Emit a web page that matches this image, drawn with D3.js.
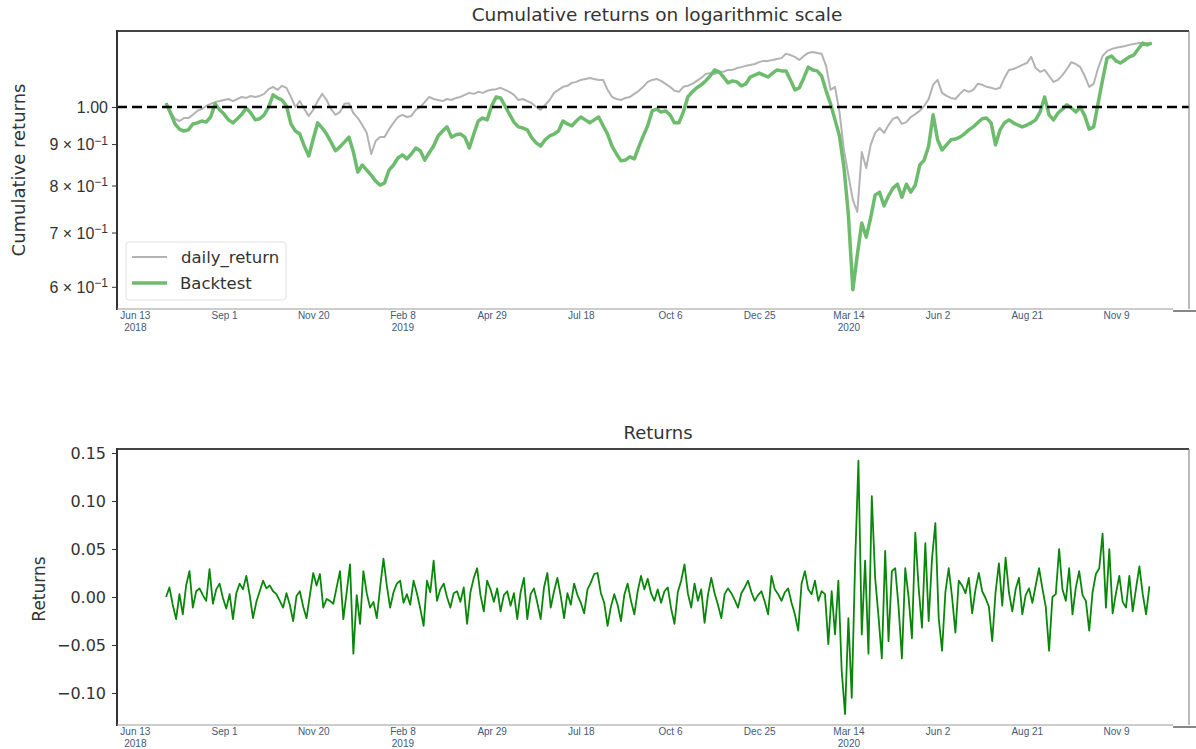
<!DOCTYPE html>
<html>
<head>
<meta charset="utf-8">
<script src="https://cdn.jsdelivr.net/npm/d3@7"></script>
<style>
  body { margin: 0; background: #fff; }
  svg { display: block; font-family: "DejaVu Sans", sans-serif; }
</style>
</head>
<body>
<svg width="1196" height="749"></svg>
<script>
// cumulative series, one value every 4 calendar days
const cumStart = "2018-07-11", cumStepDays = 4;

const dailyReturn = [
  1.011,0.986,0.967,0.961,0.969,0.969,0.978,0.989,0.994,1.003,
  1.009,1.014,1.017,1.020,1.023,1.017,1.023,1.029,1.026,1.032,
  1.029,1.032,1.038,1.052,1.059,1.050,1.062,1.056,1.029,1.000,
  1.017,0.994,0.975,0.992,1.017,1.038,1.020,0.994,0.978,0.986,
  1.009,1.011,0.983,0.969,0.950,0.929,0.875,0.908,0.918,0.918,
  0.939,0.956,0.972,0.978,0.972,0.975,0.992,1.000,1.014,1.029,
  1.023,1.020,1.017,1.023,1.020,1.026,1.029,1.035,1.041,1.038,
  1.044,1.041,1.047,1.050,1.052,1.056,1.050,1.044,1.035,1.020,
  1.023,1.017,1.011,1.000,0.992,1.006,1.020,1.041,1.050,1.059,
  1.062,1.071,1.074,1.080,1.083,1.086,1.083,1.080,1.080,1.050,
  1.029,1.023,1.020,1.026,1.029,1.038,1.047,1.059,1.074,1.080,
  1.083,1.077,1.068,1.059,1.047,1.044,1.059,1.062,1.068,1.077,
  1.086,1.098,1.101,1.098,1.105,1.105,1.111,1.111,1.117,1.120,
  1.124,1.127,1.130,1.136,1.140,1.140,1.143,1.146,1.149,1.163,
  1.159,1.153,1.143,1.156,1.166,1.169,1.166,1.163,1.124,1.050,
  1.059,0.986,0.885,0.824,0.768,0.742,0.880,0.841,0.898,0.929,
  0.942,0.929,0.950,0.967,0.972,0.953,0.958,0.972,0.980,0.989,
  1.003,1.023,1.065,1.080,1.041,1.032,1.026,1.023,1.038,1.050,
  1.044,1.050,1.068,1.065,1.059,1.056,1.052,1.056,1.086,1.111,
  1.114,1.120,1.127,1.133,1.153,1.117,1.105,1.111,1.092,1.074,
  1.080,1.095,1.114,1.136,1.130,1.120,1.092,1.059,1.068,1.117,
  1.156,1.172,1.179,1.183,1.186,1.189,1.193,1.196,1.199,1.199,
  1.199,1.199
];

const backtest = [
  1.011,0.983,0.953,0.939,0.934,0.937,0.953,0.956,0.961,0.958,
  0.972,1.009,0.992,0.980,0.964,0.956,0.967,0.980,0.997,0.983,
  0.964,0.967,0.978,1.000,1.035,1.026,1.020,1.003,0.953,0.934,
  0.926,0.895,0.870,0.913,0.956,0.942,0.926,0.905,0.883,0.893,
  0.905,0.918,0.880,0.831,0.848,0.836,0.824,0.810,0.801,0.806,
  0.836,0.848,0.865,0.873,0.863,0.875,0.890,0.883,0.860,0.878,
  0.895,0.921,0.934,0.945,0.918,0.924,0.926,0.918,0.890,0.926,
  0.961,0.969,0.964,1.003,1.029,1.026,1.003,0.980,0.958,0.945,
  0.942,0.937,0.916,0.903,0.895,0.911,0.921,0.926,0.934,0.961,
  0.953,0.948,0.961,0.972,0.964,0.956,0.964,0.972,0.948,0.926,
  0.895,0.875,0.858,0.860,0.868,0.863,0.893,0.921,0.948,0.989,
  0.994,0.986,0.989,0.978,0.956,0.956,0.986,1.029,1.044,1.056,
  1.065,1.077,1.092,1.111,1.105,1.089,1.071,1.077,1.074,1.062,
  1.068,1.089,1.095,1.101,1.095,1.089,1.101,1.111,1.108,1.108,
  1.080,1.050,1.056,1.086,1.120,1.111,1.108,1.092,1.047,1.009,
  0.964,0.921,0.843,0.736,0.595,0.657,0.719,0.691,0.730,0.779,
  0.785,0.755,0.777,0.794,0.803,0.774,0.803,0.785,0.801,0.848,
  0.860,0.895,0.978,0.911,0.885,0.898,0.911,0.913,0.918,0.926,
  0.937,0.945,0.956,0.967,0.969,0.956,0.898,0.937,0.956,0.964,
  0.956,0.950,0.945,0.950,0.956,0.964,0.986,1.029,0.978,0.964,
  0.983,0.994,1.006,0.997,0.986,1.000,0.975,0.939,0.945,1.011,
  1.080,1.149,1.156,1.140,1.133,1.143,1.153,1.159,1.179,1.199,
  1.193,1.199
];

// daily returns, one value every 3 calendar days
const retStart = "2018-07-11", retStepDays = 3;

const returns = [
  0.000,0.010,-0.008,-0.023,0.003,-0.018,0.012,0.027,-0.011,0.006,
  0.009,0.002,-0.004,0.029,-0.007,0.008,0.014,-0.001,-0.012,0.003,
  -0.023,0.004,0.014,0.008,0.022,0.002,-0.022,-0.005,0.006,0.017,
  0.009,0.012,0.006,0.003,-0.004,-0.011,0.004,-0.008,-0.025,0.001,
  0.006,-0.010,-0.022,0.002,0.025,0.012,0.024,-0.011,-0.002,-0.004,
  -0.007,0.010,0.027,-0.023,0.005,0.034,-0.059,0.002,-0.028,0.027,
  0.004,-0.011,-0.005,-0.022,0.010,0.040,0.012,-0.011,0.005,0.014,
  0.017,-0.006,0.003,-0.008,0.017,0.004,-0.012,-0.030,0.017,0.005,
  0.038,-0.004,0.008,0.014,0.000,-0.011,0.004,0.006,-0.005,0.010,
  -0.028,0.005,0.020,0.030,0.002,-0.015,0.017,0.008,-0.005,0.009,
  -0.015,0.002,0.006,-0.009,0.004,-0.023,0.005,0.020,-0.023,0.003,
  0.009,-0.006,-0.023,0.010,0.025,-0.011,0.006,0.020,0.001,-0.022,
  0.004,-0.008,0.014,0.002,-0.006,-0.017,0.008,0.015,0.024,0.025,
  0.004,-0.006,-0.030,-0.010,0.003,-0.008,-0.025,0.002,0.014,-0.004,
  -0.018,0.006,0.022,0.008,0.019,0.004,-0.004,0.008,-0.006,0.006,
  0.010,-0.012,-0.028,0.005,0.017,0.034,0.004,-0.011,0.014,-0.004,
  0.008,-0.027,0.002,0.020,0.004,-0.008,-0.022,0.003,0.009,0.004,
  -0.003,-0.011,0.004,0.010,0.017,0.005,-0.004,0.002,0.006,-0.005,
  -0.018,0.022,0.008,0.003,-0.004,0.005,0.009,-0.006,-0.018,-0.035,
  0.014,0.027,0.008,0.003,0.017,-0.004,0.006,0.003,-0.049,0.006,
  -0.039,0.017,-0.077,-0.122,-0.022,-0.105,0.034,0.142,-0.039,0.038,
  -0.059,0.105,0.020,-0.020,-0.064,0.048,-0.046,0.027,0.030,-0.010,
  -0.064,0.030,0.000,-0.043,0.067,0.010,-0.032,0.056,-0.025,0.040,
  0.077,-0.022,-0.056,0.005,0.030,0.000,-0.037,0.017,0.012,0.004,
  0.020,-0.017,0.008,0.025,0.006,-0.001,-0.010,-0.046,0.005,0.035,
  -0.009,0.041,0.005,-0.015,0.008,0.020,-0.018,0.002,0.009,-0.006,
  0.012,0.030,0.009,-0.010,-0.056,0.000,0.003,0.050,0.008,-0.004,
  0.030,-0.018,0.010,0.027,0.002,-0.004,-0.035,0.005,0.024,0.030,
  0.066,-0.011,0.050,-0.017,0.004,0.022,-0.005,-0.011,0.022,-0.015,
  0.009,0.032,0.003,-0.018,0.011
];

// axis ticks
const xTickDates = ["2018-06-13","2018-09-01","2018-11-20","2019-02-08","2019-04-29","2019-07-18",
                    "2019-10-06","2019-12-25","2020-03-14","2020-06-02","2020-08-21","2020-11-09"];
const logTicks = [1.0, 0.9, 0.8, 0.7, 0.6];
const logTickMantissa = ["1.00", "9", "8", "7", "6"];
const logTickExponent = [null, "\u22121", "\u22121", "\u22121", "\u22121"];
const retTicks = [0.15, 0.10, 0.05, 0.00, -0.05, -0.10];

const parse = d3.utcParse("%Y-%m-%d");
const cumDates = dailyReturn.map((_, i) => d3.utcDay.offset(parse(cumStart), i * cumStepDays));
const retDates = returns.map((_, i) => d3.utcDay.offset(parse(retStart), i * retStepDays));

var svg = d3.select("svg");

const left = 117, right = 1189;

var x = d3.scaleUtc()
    .domain([parse("2018-05-28"), new Date(Date.UTC(2021, 0, 13, 12))])
    .range([left, right]);

// ---------- top panel ----------
const t = {top: 31, bottom: 309};
var yLog = d3.scaleLog().domain([0.5633, 1.241]).range([t.bottom, t.top]);

svg.append("text")
    .attr("x", 657).attr("y", 21)
    .attr("text-anchor", "middle")
    .attr("font-size", 18.5).attr("fill", "#333")
    .text("Cumulative returns on logarithmic scale");

svg.append("clipPath").attr("id", "clipTop")
  .append("rect").attr("x", left).attr("y", t.top).attr("width", right - left).attr("height", t.bottom - t.top);

var gTop = svg.append("g").attr("clip-path", "url(#clipTop)");

gTop.append("path")
    .datum(dailyReturn)
    .attr("fill", "none")
    .attr("stroke", "#b3b3b3")
    .attr("stroke-width", 2)
    .attr("stroke-linejoin", "round")
    .attr("d", d3.line().x((d, i) => x(cumDates[i])).y(d => yLog(d)));

gTop.append("path")
    .datum(backtest)
    .attr("fill", "none")
    .attr("stroke", "#6dbb6d")
    .attr("stroke-width", 3.5)
    .attr("stroke-linejoin", "round")
    .attr("d", d3.line().x((d, i) => x(cumDates[i])).y(d => yLog(d)));

gTop.append("line")
    .attr("x1", left).attr("x2", right)
    .attr("y1", yLog(1)).attr("y2", yLog(1))
    .attr("stroke", "#000").attr("stroke-width", 2.5)
    .attr("stroke-dasharray", "10,5");

// y axis
var yAxisTop = svg.append("g")
    .attr("transform", `translate(${left},0)`)
    .call(d3.axisLeft(yLog).tickValues(logTicks).tickSize(5).tickPadding(6).tickFormat(""));
yAxisTop.select(".domain").remove();
yAxisTop.selectAll(".tick line").attr("stroke", "#333");
yAxisTop.selectAll(".tick").each(function (d, i) {
    var txt = d3.select(this).append("text")
        .attr("x", -9).attr("dy", "0.35em")
        .attr("text-anchor", "end")
        .attr("font-size", 16).attr("fill", "#333");
    if (logTickExponent[i]) {
        txt.append("tspan").text(logTickMantissa[i] + " \u00d7 10");
        txt.append("tspan").attr("dy", "-0.45em").attr("font-size", 12).text(logTickExponent[i]);
    } else {
        txt.text(logTickMantissa[i]);
    }
});

svg.append("text")
    .attr("transform", "translate(25,170) rotate(-90)")
    .attr("text-anchor", "middle")
    .attr("font-size", 18).attr("fill", "#333")
    .text("Cumulative returns");

// legend
var legend = svg.append("g");
legend.append("rect")
    .attr("x", 126).attr("y", 242).attr("width", 160).attr("height", 58)
    .attr("rx", 3).attr("fill", "#fff").attr("fill-opacity", 0.85)
    .attr("stroke", "#e0e0e0");
legend.append("line").attr("x1", 132).attr("x2", 167).attr("y1", 257).attr("y2", 257)
    .attr("stroke", "#b3b3b3").attr("stroke-width", 2);
legend.append("line").attr("x1", 132).attr("x2", 167).attr("y1", 283).attr("y2", 283)
    .attr("stroke", "#6dbb6d").attr("stroke-width", 3.5);
legend.append("text").attr("x", 181).attr("y", 263).attr("font-size", 16.5).attr("fill", "#333").text("daily_return");
legend.append("text").attr("x", 180).attr("y", 289).attr("font-size", 16.5).attr("fill", "#333").text("Backtest");

// ---------- bottom panel ----------
const b = {top: 449, bottom: 725};
var yRet = d3.scaleLinear().domain([-0.1333, 0.1542]).range([b.bottom, b.top]);

svg.append("text")
    .attr("x", 658).attr("y", 439)
    .attr("text-anchor", "middle")
    .attr("font-size", 18).attr("fill", "#333")
    .text("Returns");

svg.append("clipPath").attr("id", "clipBot")
  .append("rect").attr("x", left).attr("y", b.top).attr("width", right - left).attr("height", b.bottom - b.top);

svg.append("g").attr("clip-path", "url(#clipBot)")
  .append("path")
    .datum(returns)
    .attr("fill", "none")
    .attr("stroke", "#0a870a")
    .attr("stroke-width", 1.8)
    .attr("stroke-linejoin", "round")
    .attr("d", d3.line().x((d, i) => x(retDates[i])).y(d => yRet(d)));

var yAxisBot = svg.append("g")
    .attr("transform", `translate(${left},0)`)
    .call(d3.axisLeft(yRet).tickValues(retTicks).tickSize(5).tickPadding(6)
        .tickFormat(d => d3.format(".2f")(d).replace("-", "\u2212")));
yAxisBot.select(".domain").remove();
yAxisBot.selectAll(".tick line").attr("stroke", "#333");
yAxisBot.selectAll(".tick text").attr("font-size", 16).attr("fill", "#333")
    .attr("font-family", "DejaVu Sans, sans-serif");

svg.append("text")
    .attr("transform", "translate(45,589) rotate(-90)")
    .attr("text-anchor", "middle")
    .attr("font-size", 17).attr("fill", "#333")
    .text("Returns");

// ---------- frames and date axes ----------
[t, b].forEach(function (p) {
    svg.append("line").attr("x1", left).attr("x2", right).attr("y1", p.top).attr("y2", p.top)
        .attr("stroke", "#444").attr("stroke-width", 2);
    svg.append("line").attr("x1", left).attr("x2", left).attr("y1", p.top - 1).attr("y2", p.bottom + 1)
        .attr("stroke", "#333").attr("stroke-width", 2);
    svg.append("line").attr("x1", right).attr("x2", right).attr("y1", p.top).attr("y2", p.bottom)
        .attr("stroke", "#777").attr("stroke-width", 1);
    svg.append("line").attr("x1", left).attr("x2", 1173).attr("y1", p.bottom).attr("y2", p.bottom)
        .attr("stroke", "#9a9a9a").attr("stroke-width", 1);
    svg.append("line").attr("x1", 1173).attr("x2", 1196).attr("y1", p.bottom + 2).attr("y2", p.bottom + 2)
        .attr("stroke", "#888").attr("stroke-width", 2);

    var ax = svg.append("g")
        .attr("transform", `translate(0,${p.bottom})`)
        .call(d3.axisBottom(x).tickValues(xTickDates.map(parse)).tickSize(0).tickFormat(""));
    ax.select(".domain").remove();
    ax.selectAll(".tick").each(function (d, i) {
        var txt = d3.select(this).append("text")
            .attr("y", 10)
            .attr("text-anchor", "middle")
            .attr("font-size", 10).attr("fill", "#45577a");
        txt.append("tspan").attr("x", 0).text(d3.utcFormat("%b %-d")(d));
        var prev = i > 0 ? parse(xTickDates[i - 1]) : null;
        if (!prev || prev.getUTCFullYear() !== d.getUTCFullYear()) {
            txt.append("tspan").attr("x", 0).attr("dy", 11.5).text(d3.utcFormat("%Y")(d));
        }
    });
});
</script>
</body>
</html>
